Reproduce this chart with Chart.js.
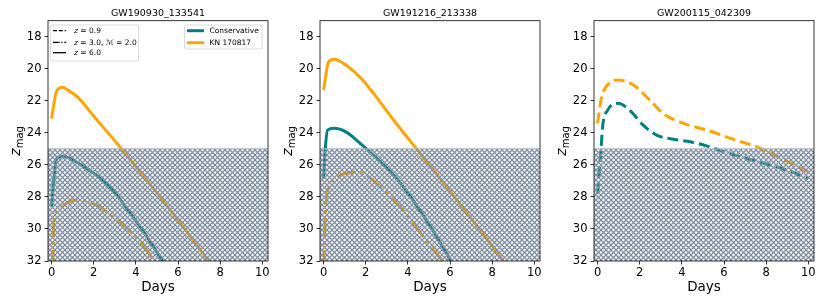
<!DOCTYPE html>
<html>
<head>
<meta charset="utf-8">
<script src="https://cdn.jsdelivr.net/npm/chart.js@4/dist/chart.umd.min.js"></script>
<style>
  body { margin: 0; background: #fff; width: 830px; height: 305px; overflow: hidden; position: relative; }
  .panel { position: absolute; top: 0; width: 276px; height: 305px; }
</style>
</head>
<body>
<div class="panel" style="left:-0.3px"><canvas id="c1"></canvas></div>
<div class="panel" style="left:272px"><canvas id="c2"></canvas></div>
<div class="panel" style="left:546.3px"><canvas id="c3"></canvas></div>
<script>
// panel titles and axis ticks
const titles = ["GW190930_133541", "GW191216_213338", "GW200115_042309"];
const dayTicks = [0, 2, 4, 6, 8, 10];
const magTicks = [18, 20, 22, 24, 26, 28, 30, 32];
const hatchFrom = 25;

// GW190930_133541
const p1KnDays = [0, 0.24, 0.52, 0.8, 1.26, 2.0, 3.0, 3.38, 4.0, 5.0, 6.0, 7.0, 7.6];
const p1KnMag = [23.1, 21.4, 21.16, 21.35, 21.8, 22.95, 24.5, 25.08, 26.1, 27.75, 29.45, 31.2, 32.3];
const p1ConsDays = [0, 0.1, 0.24, 0.55, 1.34, 2.12, 2.91, 3.69, 4.48, 5.19, 5.4];
const p1ConsMag = [28.6, 27.0, 25.6, 25.46, 25.95, 26.64, 27.58, 28.94, 30.4, 31.85, 32.3];
const p1KnLowDays = [0.06, 0.11, 0.32, 0.71, 1.18, 2.12, 2.91, 3.69, 4.48, 4.9];
const p1KnLowMag = [32.5, 29.5, 28.8, 28.4, 28.2, 28.5, 29.25, 30.1, 31.25, 32.2];

// GW191216_213338
const p2KnDays = [0, 0.24, 0.51, 1.06, 1.85, 2.64, 3.44, 4.46, 5.5, 6.5, 7.5, 8.5, 8.8];
const p2KnMag = [21.33, 19.56, 19.41, 19.77, 20.7, 22.0, 23.4, 25.08, 26.8, 28.5, 30.2, 31.95, 32.5];
const p2ConsDays = [0, 0.08, 0.19, 0.51, 1.06, 1.6, 2.1, 3.0, 3.65, 4.45, 5.24, 6.0, 6.2];
const p2ConsMag = [26.85, 25.0, 23.83, 23.72, 23.94, 24.5, 25.08, 26.2, 27.15, 28.6, 30.2, 31.9, 32.3];
const p2KnLowDays = [0, 0.04, 0.1, 0.26, 0.65, 1.28, 1.6, 2.87, 3.65, 4.45, 5.24, 5.7];
const p2KnLowMag = [32.5, 31.0, 28.6, 27.4, 26.75, 26.48, 26.45, 27.58, 28.63, 29.98, 31.33, 32.1];

// GW200115_042309
const p3KnDays = [0, 0.16, 0.4, 0.96, 1.68, 2.48, 3.12, 4.08, 5.2, 6.32, 7.6, 8.72, 10.0];
const p3KnMag = [23.41, 21.96, 21.13, 20.7, 21.0, 21.96, 22.8, 23.41, 23.83, 24.35, 24.9, 25.6, 26.44];
const p3ConsDays = [0, 0.16, 0.24, 0.48, 0.96, 1.52, 2.16, 2.8, 3.6, 4.4, 5.2, 6.0, 6.8, 7.6, 8.4, 9.2, 10.0];
const p3ConsMag = [27.8, 25.08, 23.6, 22.58, 22.16, 22.58, 23.52, 24.14, 24.4, 24.56, 24.83, 25.19, 25.5, 25.8, 26.08, 26.44, 26.85];

const teal = "#008080";
const orange = "#FFA500";
const hatchColor = "#7f8ea2";
const solid = [];
const dashed = [11, 5];
const dashdot = [19, 5, 3, 5];
const font = "'DejaVu Sans', sans-serif";

function pts(days, mags) {
    return days.map((d, i) => ({ x: d, y: mags[i] }));
}

function line(days, mags, color, dash) {
    return {
        data: pts(days, mags),
        borderColor: color,
        borderWidth: 3,
        borderDash: dash,
        pointRadius: 0,
        cubicInterpolationMode: "monotone",
        clip: 0,
        fill: false
    };
}

function drawRich(ctx, parts, x, y, size) {
    parts.forEach(([txt, italic]) => {
        ctx.font = (italic ? "italic " : "") + size + "px " + font;
        ctx.fillText(txt, x, y);
        x += ctx.measureText(txt).width;
    });
}

function roundBox(ctx, x, y, w, h) {
    ctx.save();
    ctx.beginPath();
    ctx.roundRect(x, y, w, h, 2);
    ctx.fillStyle = "rgba(255,255,255,0.85)";
    ctx.fill();
    ctx.strokeStyle = "#d0d0d0";
    ctx.lineWidth = 0.8;
    ctx.stroke();
    ctx.restore();
}

function legendLine(ctx, x1, x2, y, color, width, dash) {
    ctx.save();
    ctx.beginPath();
    ctx.setLineDash(dash);
    ctx.strokeStyle = color;
    ctx.lineWidth = width;
    ctx.moveTo(x1, y);
    ctx.lineTo(x2, y);
    ctx.stroke();
    ctx.restore();
}

const deco = {
    id: "deco",
    afterDatasetsDraw(chart) {
        const { ctx, chartArea: a, scales } = chart;
        const top = scales.y.getPixelForValue(hatchFrom);
        const tile = document.createElement("canvas");
        tile.width = 5;
        tile.height = 5;
        const g = tile.getContext("2d");
        g.strokeStyle = hatchColor;
        g.lineWidth = 1.3;
        g.beginPath();
        g.moveTo(-1, -1); g.lineTo(6, 6);
        g.moveTo(-1, 6); g.lineTo(6, -1);
        g.stroke();
        ctx.save();
        ctx.fillStyle = ctx.createPattern(tile, "repeat");
        ctx.fillRect(a.left, top, a.right - a.left, a.bottom - top);
        ctx.strokeStyle = "rgba(170,178,190,0.9)";
        ctx.lineWidth = 1.2;
        ctx.beginPath();
        ctx.moveTo(a.left, top);
        ctx.lineTo(a.right, top);
        ctx.stroke();
        ctx.restore();
    },
    afterDraw(chart, args, opts) {
        const { ctx, chartArea: a } = chart;
        ctx.save();
        ctx.strokeStyle = "#000";
        ctx.lineWidth = 0.8;
        ctx.strokeRect(a.left, a.top, a.right - a.left, a.bottom - a.top);

        ctx.fillStyle = "#000";
        ctx.textAlign = "center";
        ctx.textBaseline = "middle";
        ctx.font = "9.5px " + font;
        ctx.fillText(opts.title, (a.left + a.right) / 2, 13.5);

        ctx.font = "13.5px " + font;
        ctx.fillText("Days", (a.left + a.right) / 2, 287);

        // y label z_mag
        ctx.save();
        ctx.translate(a.left - 32, (a.top + a.bottom) / 2);
        ctx.rotate(-Math.PI / 2);
        ctx.textAlign = "left";
        ctx.textBaseline = "alphabetic";
        ctx.font = "italic 14px " + font;
        const zw = ctx.measureText("z").width;
        ctx.font = "10px " + font;
        const mw = ctx.measureText("mag").width;
        const x0 = -(zw + mw) / 2;
        ctx.font = "italic 14px " + font;
        ctx.fillText("z", x0, 4);
        ctx.font = "10px " + font;
        ctx.fillText("mag", x0 + zw, 7);
        ctx.restore();

        if (opts.legend) {
            ctx.textAlign = "left";
            ctx.textBaseline = "middle";
            const L = a.left;
            roundBox(ctx, L + 2.5, 25, 88, 36);
            legendLine(ctx, L + 5, L + 18, 30.7, "#000", 1.3, [4, 1.8]);
            drawRich(ctx, [["z", true], [" = 0.9", false]], L + 26, 31, 7.5);
            legendLine(ctx, L + 5, L + 18, 42.3, "#000", 1.3, [6.5, 1.8, 1.2, 1.8]);
            drawRich(ctx, [["z", true], [" = 3.0, ", false], ["\u2133", true], [" = 2.0", false]], L + 26, 42.6, 7.5);
            legendLine(ctx, L + 5, L + 18, 52.7, "#000", 1.3, []);
            drawRich(ctx, [["z", true], [" = 6.0", false]], L + 26, 53, 7.5);

            roundBox(ctx, L + 136.5, 25, 77.5, 24);
            legendLine(ctx, L + 139, L + 156, 30.7, teal, 3, []);
            drawRich(ctx, [["Conservative", false]], L + 161.5, 31, 7.5);
            legendLine(ctx, L + 139, L + 156, 42.7, orange, 3, []);
            drawRich(ctx, [["KN 170817", false]], L + 161.5, 43, 7.5);
        }
        ctx.restore();
    }
};

function makeChart(id, title, datasets, legend) {
    return new Chart(document.getElementById(id), {
        type: "line",
        data: { datasets },
        plugins: [deco],
        options: {
            responsive: false,
            animation: false,
            devicePixelRatio: 1,
            layout: { padding: { top: 20.7, right: 8, left: 0, bottom: 0 } },
            plugins: {
                legend: { display: false },
                tooltip: { enabled: false },
                deco: { title, legend }
            },
            scales: {
                x: {
                    type: "linear",
                    min: -0.17,
                    max: 10.27,
                    afterBuildTicks: s => { s.ticks = dayTicks.map(v => ({ value: v })); },
                    afterFit: s => { s.height = 44; },
                    border: { display: false },
                    grid: { drawOnChartArea: false, drawTicks: true, tickLength: 3.5, color: "#000", lineWidth: 0.8 },
                    ticks: { color: "#000", font: { family: font, size: 11.5 }, padding: 2, maxRotation: 0 }
                },
                y: {
                    type: "linear",
                    reverse: true,
                    min: 17,
                    max: 32,
                    afterBuildTicks: s => { s.ticks = magTicks.map(v => ({ value: v })); },
                    afterFit: s => { s.width = 48; },
                    border: { display: false },
                    grid: { drawOnChartArea: false, drawTicks: true, tickLength: 3.5, color: "#000", lineWidth: 0.8 },
                    ticks: { color: "#000", font: { family: font, size: 11.5 }, padding: 3 }
                }
            }
        }
    });
}

for (const id of ["c1", "c2", "c3"]) {
    const c = document.getElementById(id);
    c.width = 276;
    c.height = 305;
    c.style.width = "276px";
    c.style.height = "305px";
}

makeChart("c1", titles[0], [
    line(p1ConsDays, p1ConsMag, teal, solid),
    line(p1KnLowDays, p1KnLowMag, orange, dashdot),
    line(p1KnDays, p1KnMag, orange, solid)
], true);

makeChart("c2", titles[1], [
    line(p2ConsDays, p2ConsMag, teal, solid),
    line(p2KnLowDays, p2KnLowMag, orange, dashdot),
    line(p2KnDays, p2KnMag, orange, solid)
], false);

makeChart("c3", titles[2], [
    line(p3ConsDays, p3ConsMag, teal, dashed),
    line(p3KnDays, p3KnMag, orange, dashed)
], false);
</script>
</body>
</html>
